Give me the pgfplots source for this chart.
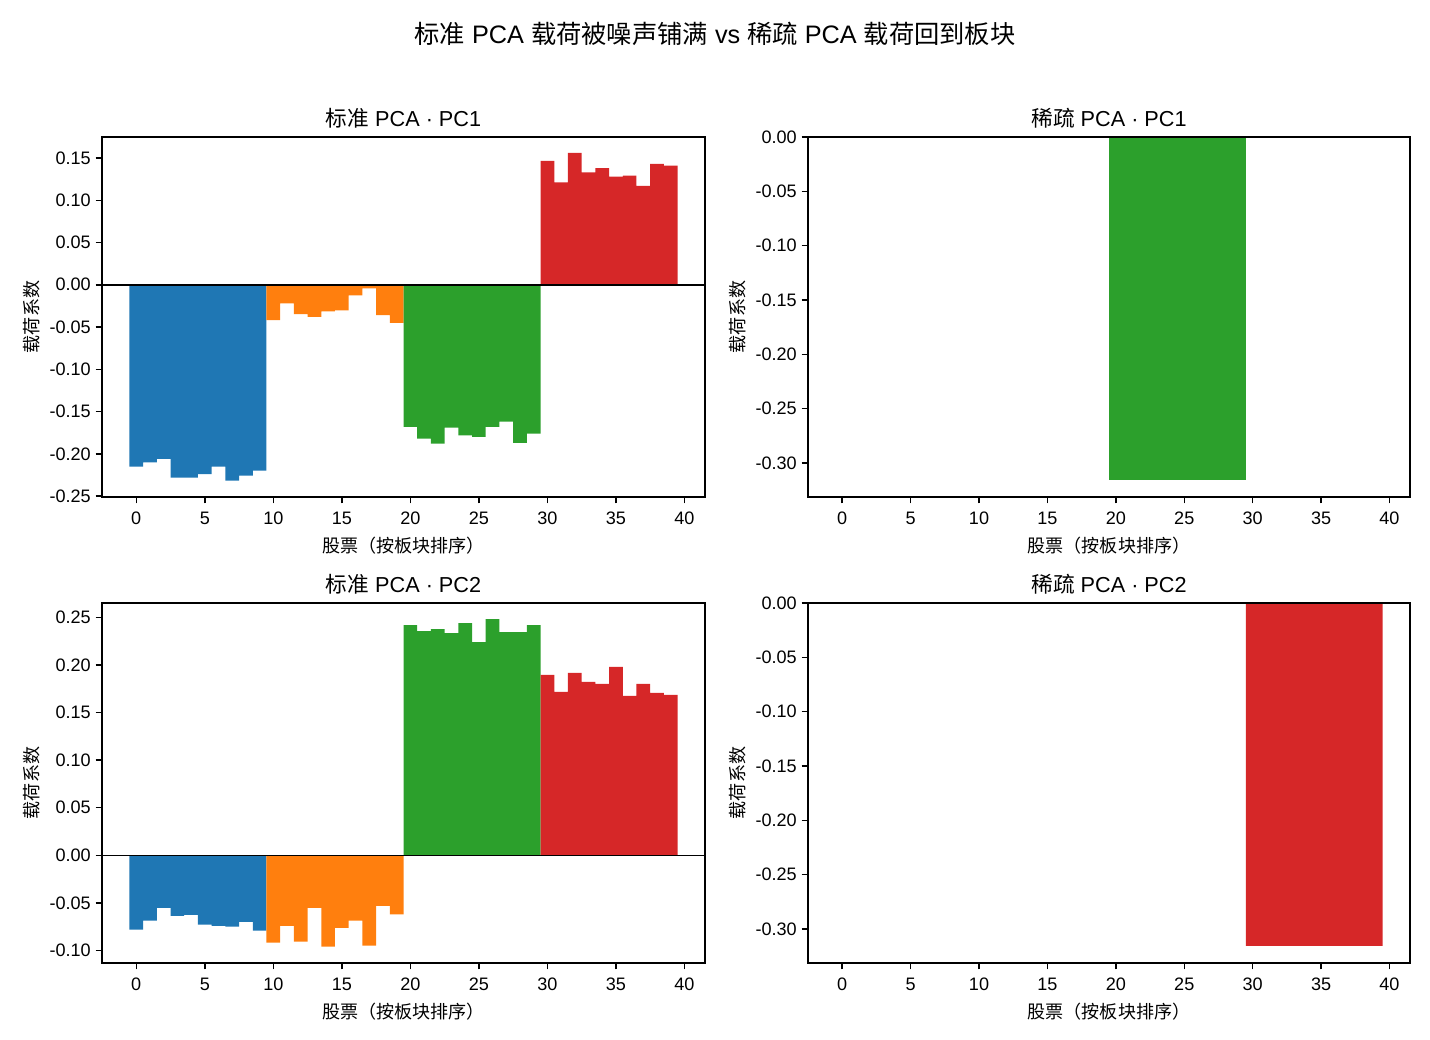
\documentclass[border=0pt]{standalone}
\usepackage{fontspec}
\setmainfont{Liberation Sans}
\newfontfamily\cjk{Noto Sans CJK SC}
\usepackage{pgfplots}
\pgfplotsset{compat=1.18}
\definecolor{tabblue}{HTML}{1F77B4}
\definecolor{taborange}{HTML}{FF7F0E}
\definecolor{tabgreen}{HTML}{2CA02C}
\definecolor{tabred}{HTML}{D62728}
\pgfplotsset{
  panel/.style={
    scale only axis,
    anchor=south west,
    xmin=-2.5, xmax=41.5,
    xtick={0,5,...,40},
    tick align=outside,
    major tick length=4.55pt,
    axis line style={line width=1.04pt},
    every tick/.style={black, line width=1.04pt},
    xtick pos=bottom, ytick pos=left,
    tick label style={font=\fontsize{13}{15.6}\selectfont},
    label style={font=\fontsize{13}{15.6}\selectfont},
    title style={font=\fontsize{15.6}{18.7}\selectfont, yshift=-3pt},
    /pgf/number format/assume math mode=true,
    yticklabel style={/pgf/number format/.cd, fixed, fixed zerofill, precision=2},
    xticklabel style={yshift=-2.5pt, /pgf/number format/.cd, fixed, precision=0},
    xlabel style={yshift=-2.5pt},
    scaled y ticks=false,
    xlabel={\cjk 股票（按板块排序）},
    ylabel={\cjk 载荷系数},
    clip=false,
  },
  bars/.style={ybar, bar width=1, bar shift=0pt, draw=none, fill=#1},
}
\begin{document}
\begin{tikzpicture}
\path[use as bounding box] (0,0) rectangle (1029.6pt,748.8pt);
\node[font=\fontsize{18.2}{21.8}\selectfont] at (514.8pt,724.3pt) {{\cjk 标准} PCA {\cjk 载荷被噪声铺满} vs {\cjk 稀疏} PCA {\cjk 载荷回到板块}};
% top-left
\begin{axis}[panel, at={(73.44pt,390.96pt)}, width=434.16pt, height=259.2pt,
  ymin=-0.251, ymax=0.1748, ytick={-0.25,-0.20,...,0.16},
  title={{\cjk 标准} PCA · PC1}]
\addplot[bars=tabblue] coordinates {(0,-0.215)(1,-0.210)(2,-0.206)(3,-0.228)(4,-0.228)(5,-0.224)(6,-0.215)(7,-0.2315)(8,-0.2256)(9,-0.2197)};
\addplot[bars=taborange] coordinates {(10,-0.0417)(11,-0.022)(12,-0.0346)(13,-0.0381)(14,-0.0314)(15,-0.0303)(16,-0.0126)(17,-0.0043)(18,-0.0358)(19,-0.0452)};
\addplot[bars=tabgreen] coordinates {(20,-0.168)(21,-0.182)(22,-0.188)(23,-0.169)(24,-0.178)(25,-0.180)(26,-0.168)(27,-0.162)(28,-0.187)(29,-0.176)};
\addplot[bars=tabred] coordinates {(30,0.1466)(31,0.121)(32,0.156)(33,0.133)(34,0.138)(35,0.128)(36,0.129)(37,0.117)(38,0.143)(39,0.141)};
\addplot[black, line width=1.04pt] coordinates {(-2.5,0)(41.5,0)};
\end{axis}
% top-right
\begin{axis}[panel, at={(581.76pt,390.96pt)}, width=433.44pt, height=259.2pt,
  ymin=-0.3314, ymax=0, ytick={-0.30,-0.25,...,0.01},
  title={{\cjk 稀疏} PCA · PC1}]
\addplot[bars=tabgreen] coordinates {(20,-0.3156)(21,-0.3156)(22,-0.3156)(23,-0.3156)(24,-0.3156)(25,-0.3156)(26,-0.3156)(27,-0.3156)(28,-0.3156)(29,-0.3156)};
\addplot[black, line width=1.04pt] coordinates {(-2.5,0)(41.5,0)};
\end{axis}
% bottom-left
\begin{axis}[panel, at={(73.44pt,55.44pt)}, width=434.16pt, height=259.2pt,
  ymin=-0.113, ymax=0.265, ytick={-0.10,-0.05,...,0.26},
  title={{\cjk 标准} PCA · PC2}]
\addplot[bars=tabblue] coordinates {(0,-0.078)(1,-0.0686)(2,-0.055)(3,-0.0634)(4,-0.0624)(5,-0.0728)(6,-0.0739)(7,-0.0749)(8,-0.0697)(9,-0.0791)};
\addplot[bars=taborange] coordinates {(10,-0.0916)(11,-0.0739)(12,-0.0906)(13,-0.055)(14,-0.0958)(15,-0.076)(16,-0.0686)(17,-0.0948)(18,-0.053)(19,-0.062)};
\addplot[bars=tabgreen] coordinates {(20,0.2418)(21,0.2355)(22,0.2376)(23,0.2334)(24,0.2439)(25,0.224)(26,0.248)(27,0.2345)(28,0.2345)(29,0.2418)};
\addplot[bars=tabred] coordinates {(30,0.1895)(31,0.1718)(32,0.1916)(33,0.1822)(34,0.180)(35,0.198)(36,0.1676)(37,0.180)(38,0.1707)(39,0.1686)};
\addplot[black, line width=1.04pt] coordinates {(-2.5,0)(41.5,0)};
\end{axis}
% bottom-right
\begin{axis}[panel, at={(581.76pt,55.44pt)}, width=433.44pt, height=259.2pt,
  ymin=-0.3314, ymax=0, ytick={-0.30,-0.25,...,0.01},
  title={{\cjk 稀疏} PCA · PC2}]
\addplot[bars=tabred] coordinates {(30,-0.3156)(31,-0.3156)(32,-0.3156)(33,-0.3156)(34,-0.3156)(35,-0.3156)(36,-0.3156)(37,-0.3156)(38,-0.3156)(39,-0.3156)};
\addplot[black, line width=1.04pt] coordinates {(-2.5,0)(41.5,0)};
\end{axis}
\end{tikzpicture}
\end{document}
